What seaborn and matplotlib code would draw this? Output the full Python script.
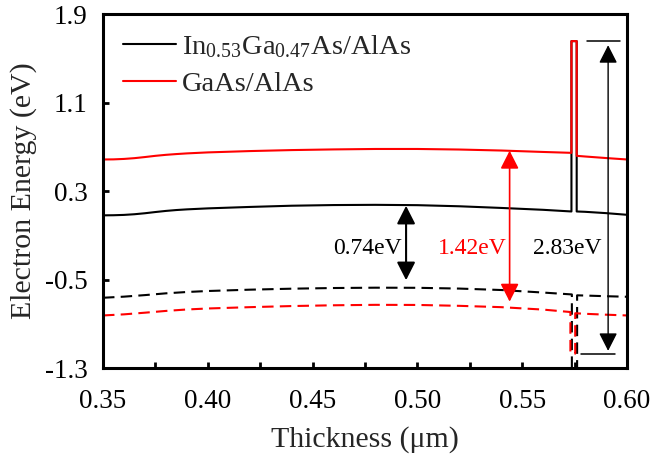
import matplotlib
matplotlib.use('Agg')
import matplotlib.pyplot as plt
import seaborn as sns

# ---------------- data ----------------
x_cb = [0.35, 0.355, 0.36, 0.365, 0.37, 0.375, 0.38, 0.385, 0.39, 0.40, 0.42, 0.44, 0.46, 0.48,
        0.50, 0.52, 0.54, 0.56, 0.5735, 0.5735, 0.5760, 0.5760, 0.58, 0.59, 0.60]
e_cb_ingaas = [0.080, 0.081, 0.084, 0.090, 0.099, 0.110, 0.120, 0.128, 0.134, 0.143, 0.156, 0.167,
               0.173, 0.175, 0.172, 0.162, 0.147, 0.130, 0.115, 1.655, 1.655, 0.115, 0.112, 0.100,
               0.085]
e_cb_gaas = [0.585, 0.586, 0.590, 0.597, 0.607, 0.618, 0.627, 0.634, 0.640, 0.649, 0.661, 0.670,
             0.676, 0.680, 0.680, 0.675, 0.666, 0.653, 0.645, 1.655, 1.655, 0.618, 0.612, 0.598,
             0.585]

x_vb_ingaas = [0.35, 0.36, 0.37, 0.38, 0.39, 0.40, 0.42, 0.44, 0.46, 0.48, 0.50, 0.52, 0.54, 0.56,
               0.5737, 0.5737, 0.5762, 0.5762, 0.58, 0.59, 0.60]
e_vb_ingaas = [-0.665, -0.655, -0.641, -0.625, -0.613, -0.604, -0.592, -0.583, -0.577, -0.574, -0.575,
               -0.582, -0.595, -0.618, -0.635, -1.40, -1.40, -0.643, -0.645, -0.651, -0.656]

x_vb_gaas = [0.35, 0.36, 0.37, 0.38, 0.39, 0.40, 0.42, 0.44, 0.46, 0.48, 0.50, 0.52, 0.54, 0.56,
             0.5730, 0.5730, 0.5753, 0.5753, 0.58, 0.59, 0.60]
e_vb_gaas = [-0.825, -0.815, -0.800, -0.784, -0.771, -0.762, -0.750, -0.740, -0.733, -0.729, -0.730,
             -0.738, -0.750, -0.772, -0.794, -1.17, -1.17, -0.805, -0.810, -0.818, -0.825]

series_labels = [r'In$_{\mathregular{0.53}}$Ga$_{\mathregular{0.47}}$As/AlAs', 'GaAs/AlAs']

gap_labels = ['0.74eV', '1.42eV', '2.83eV']
gap_colors = ['black', 'red', 'black']
arrow_x = [0.4946, 0.544, 0.591]
arrow_top = [0.166, 0.664, 1.618]
arrow_bottom = [-0.506, -0.70, -1.145]
label_x = [0.476, 0.526, 0.5714]
label_y = -0.218

ref_top = 1.655
ref_top_x = [0.5807, 0.5967]
ref_bot = -1.17
ref_bot_x = [0.578, 0.5943]

x_ticks = [0.35, 0.40, 0.45, 0.50, 0.55, 0.60]
y_ticks = [-1.3, -0.5, 0.3, 1.1, 1.9]

# ---------------- style ----------------
sns.set_theme(style='ticks')
plt.rcParams['font.family'] = ['Liberation Serif', 'DejaVu Serif']
plt.rcParams['mathtext.fontset'] = 'custom'
plt.rcParams['mathtext.rm'] = 'Liberation Serif'
plt.rcParams['mathtext.it'] = 'Liberation Serif:italic'

fig, ax = plt.subplots(figsize=(6.54, 4.58), dpi=100)
fig.subplots_adjust(left=0.1575, right=0.9587, top=0.9694, bottom=0.1965)

lw = 1.5
dash = (0, (5.5, 3))
sns.lineplot(x=x_cb, y=e_cb_ingaas, ax=ax, color='black', lw=lw, sort=False, estimator=None,
             label=series_labels[0])
sns.lineplot(x=x_cb, y=e_cb_gaas, ax=ax, color='red', lw=lw, sort=False, estimator=None,
             label=series_labels[1])
sns.lineplot(x=x_vb_ingaas, y=e_vb_ingaas, ax=ax, color='black', lw=lw, sort=False, estimator=None,
             linestyle=dash, legend=False)
sns.lineplot(x=x_vb_gaas, y=e_vb_gaas, ax=ax, color='red', lw=lw, sort=False, estimator=None,
             linestyle=dash, legend=False)

# arrows and labels
arrow_lw = [1.5, 1.2, 1.0]
for lab, c, xa, yt, yb, xl, alw in zip(gap_labels, gap_colors, arrow_x, arrow_top, arrow_bottom,
                                       label_x, arrow_lw):
    ax.annotate('', xy=(xa, yt), xytext=(xa, yb),
                arrowprops=dict(arrowstyle='<|-|>,head_length=0.55,head_width=0.28',
                                color=c, lw=alw, shrinkA=0, shrinkB=0, mutation_scale=20))
    ax.text(xl, label_y, lab, color=c, fontsize=17, ha='center', va='center')

ax.plot(ref_top_x, [ref_top, ref_top], color='black', lw=1.1)
ax.plot(ref_bot_x, [ref_bot, ref_bot], color='black', lw=1.1)

ax.set_xlim(0.35, 0.60)
ax.set_ylim(-1.3, 1.9)
ax.set_xticks(x_ticks)
ax.set_xticklabels([f'{v:.2f}' for v in x_ticks])
ax.set_xticks([0.375, 0.425, 0.475, 0.525, 0.575], minor=True)
ax.set_yticks(y_ticks)
ax.set_yticklabels([f'{v:.1f}' for v in y_ticks])

ax.tick_params(axis='both', which='both', direction='in', width=2, colors='black')
ax.tick_params(axis='both', which='major', length=4.5, labelsize=19.5)
ax.tick_params(axis='x', which='major', pad=15)
ax.tick_params(axis='y', which='major', pad=11)
ax.tick_params(axis='x', which='minor', length=4.5)

for s in ax.spines.values():
    s.set_linewidth(2.2)
    s.set_color('black')
    s.set_visible(True)

ax.set_xlabel('Thickness (μm)', fontsize=21.5, labelpad=9)
ax.set_ylabel('Electron Energy (eV)', fontsize=21.5, labelpad=6)

ax.legend(loc='upper left', bbox_to_anchor=(0.038, 0.945), frameon=False, fontsize=20.5,
          handlelength=1.85, handletextpad=0.22, labelspacing=0.38, borderpad=0, borderaxespad=0)

fig.savefig('out.png', dpi=100)
